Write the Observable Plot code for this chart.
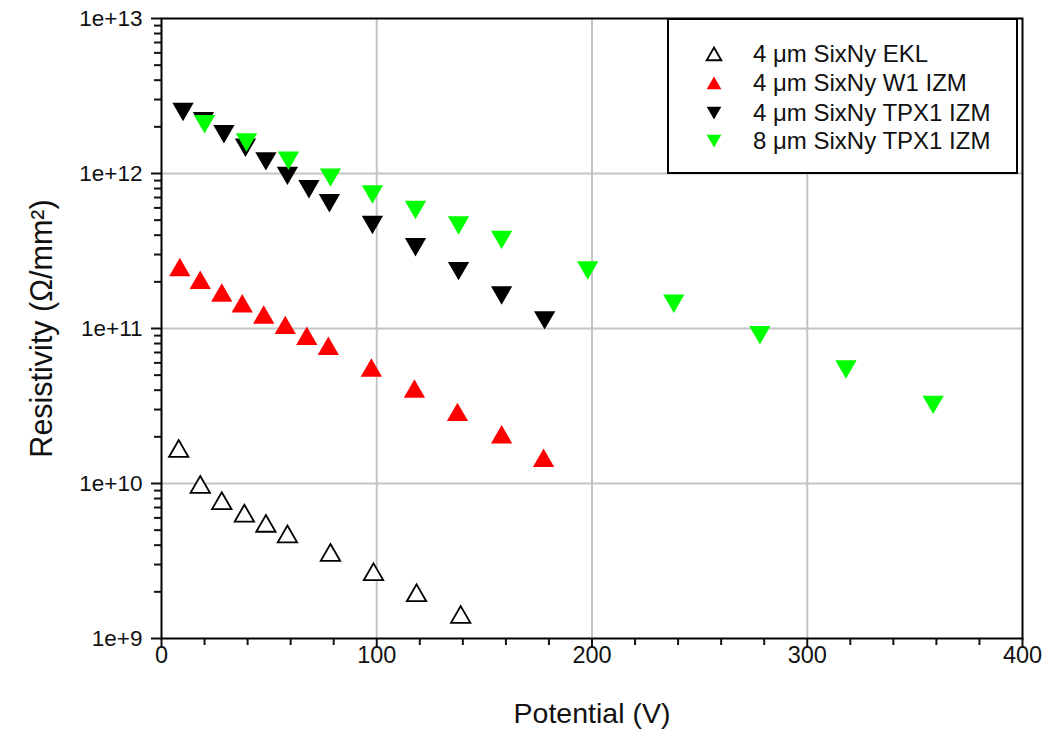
<!DOCTYPE html>
<html>
<head>
<meta charset="utf-8">
<script src="https://cdn.jsdelivr.net/npm/d3@7"></script>
<script src="https://cdn.jsdelivr.net/npm/@observablehq/plot@0.6"></script>
<style>
  html, body { margin: 0; padding: 0; background: #fff; }
  #wrap { position: relative; width: 1057px; height: 740px; font-family: "Liberation Sans", Arial, sans-serif; }
  #legend { position: absolute; left: 667px; top: 18px; width: 347px; height: 152px; border: 2px solid #000; background: #fff; }
  .row { position: absolute; left: 0; height: 28px; display: flex; align-items: center; font-size: 24px; color: #111; white-space: nowrap; }
  .row svg { margin-left: 34px; margin-right: 28px; }
</style>
</head>
<body>
<div id="wrap"><div id="chart"></div><div id="legend"></div></div>
<script>
// ---- data ----
const seriesNames = ["4 μm SixNy EKL", "4 μm SixNy W1 IZM", "4 μm SixNy TPX1 IZM", "8 μm SixNy TPX1 IZM"];

const eklX = [8, 18, 28, 38.5, 48.5, 58.5, 78.5, 98.5, 118.5, 139];
const eklY = [1.67e10, 9.8e9, 7.7e9, 6.4e9, 5.5e9, 4.7e9, 3.57e9, 2.68e9, 1.96e9, 1.42e9];

const w1X = [8.5, 18, 28, 37.5, 47.5, 57.5, 67.5, 77.5, 97.5, 117.5, 137.5, 158, 177.5];
const w1Y = [2.47e11, 2.04e11, 1.69e11, 1.44e11, 1.22e11, 1.045e11, 8.9e10, 7.66e10, 5.54e10, 4.06e10, 2.87e10, 2.06e10, 1.45e10];

const tpx4X = [10, 19.5, 29, 39, 48.5, 58.5, 68.5, 78, 98, 118, 138, 158, 178];
const tpx4Y = [2.52e12, 2.2e12, 1.81e12, 1.48e12, 1.21e12, 9.75e11, 8.0e11, 6.5e11, 4.7e11, 3.38e11, 2.37e11, 1.65e11, 1.14e11];

const tpx8X = [20, 39.5, 59, 78.5, 98, 118, 138, 158, 198, 238, 278, 318, 358.5];
const tpx8Y = [2.10e12, 1.60e12, 1.22e12, 9.5e11, 7.4e11, 5.87e11, 4.66e11, 3.77e11, 2.39e11, 1.46e11, 9.15e10, 5.5e10, 3.25e10];

const xMajorTicks = [0, 100, 200, 300, 400];
const xMinorTicks = d3.range(0, 401, 20).filter(v => v % 100 !== 0);
const yMajorTicks = [1e9, 1e10, 1e11, 1e12, 1e13];
const yMinorTicks = [9, 10, 11, 12].flatMap(e => [2,3,4,5,6,7,8,9].map(m => m * 10 ** e));
const xGrid = [100, 200, 300];
const yGrid = [1e10, 1e11, 1e12];

// ---- tables ----
const toRows = (xs, ys, s) => xs.map((x, i) => ({x, y: ys[i], s}));
const ekl = toRows(eklX, eklY, seriesNames[0]);
const w1 = toRows(w1X, w1Y, seriesNames[1]);
const tpx4 = toRows(tpx4X, tpx4Y, seriesNames[2]);
const tpx8 = toRows(tpx8X, tpx8Y, seriesNames[3]);

const R = 7.9;
const off = Math.sqrt(Math.PI * R * R) * 0.6824 / 4;
const gridColor = "#c4c4c4";

const chart = Plot.plot({
  width: 1057,
  height: 740,
  marginLeft: 161,
  marginRight: 35,
  marginTop: 18,
  marginBottom: 102,
  style: { fontFamily: "Liberation Sans, Arial, sans-serif", fontSize: "23px", color: "#111", background: "#fff" },
  x: { domain: [0, 400], axis: null },
  y: { type: "log", domain: [1e9, 1e13], axis: null },
  marks: [
    Plot.ruleX(xGrid, { stroke: gridColor, strokeWidth: 2 }),
    Plot.ruleY(yGrid, { stroke: gridColor, strokeWidth: 2 }),
    Plot.axisY(yMajorTicks, { anchor: "left", tickSize: 10, tickPadding: 9, strokeWidth: 2, tickFormat: d => "1e+" + Math.round(Math.log10(d)), label: null, fontSize: 22.5 }),
    Plot.axisY(yMinorTicks, { anchor: "left", tickSize: 7, strokeWidth: 2, tickFormat: () => "", label: null }),
    Plot.axisX(xMajorTicks, { anchor: "bottom", tickSize: 10, tickPadding: -2, strokeWidth: 2, label: null, fontSize: 23.5 }),
    Plot.axisX(xMinorTicks, { anchor: "bottom", tickSize: 7, strokeWidth: 2, tickFormat: () => "", label: null }),
    Plot.frame({ stroke: "#000", strokeWidth: 2 }),
    Plot.text(["Resistivity (Ω/mm²)"], { frameAnchor: "left", textAnchor: "middle", dx: -119, rotate: -90, fontSize: 30.5 }),
    Plot.text(["Potential (V)"], { frameAnchor: "bottom", textAnchor: "middle", dy: 84, fontSize: 28.5 }),
    Plot.dot(ekl, { x: "x", y: "y", symbol: "triangle", r: 7.2, fill: "#fff", stroke: "#000", strokeWidth: 1.8, dy: off }),
    Plot.dot(w1, { x: "x", y: "y", symbol: "triangle", r: R, fill: "#ff0000", stroke: "none", dy: off }),
    Plot.dot(tpx4, { x: "x", y: "y", symbol: "triangle", r: R, fill: "#000", stroke: "none", rotate: 180, dy: -off }),
    Plot.dot(tpx8, { x: "x", y: "y", symbol: "triangle", r: R, fill: "#00ff00", stroke: "none", rotate: 180, dy: -off })
  ]
});
document.getElementById("chart").appendChild(chart);

// ---- legend ----
const legendStyles = [
  { fill: "#fff", stroke: "#000", rot: 0 },
  { fill: "#ff0000", stroke: "none", rot: 0 },
  { fill: "#000", stroke: "none", rot: 180 },
  { fill: "#00ff00", stroke: "none", rot: 180 }
];
const tri = d3.symbol(d3.symbolTriangle2, Math.PI * 7 * 7)();
const legend = document.getElementById("legend");
const rowTops = [20, 49, 79, 107];
seriesNames.forEach((name, i) => {
  const st = legendStyles[i];
  const row = document.createElement("div");
  row.className = "row";
  row.style.top = rowTops[i] + "px";
  row.innerHTML = `<svg width="22" height="22" viewBox="-11 -11 22 22"><path d="${tri}" transform="rotate(${st.rot}) translate(0,2)" fill="${st.fill}" stroke="${st.stroke}" stroke-width="1.8"/></svg><span>${name}</span>`;
  legend.appendChild(row);
});
</script>
</body>
</html>
